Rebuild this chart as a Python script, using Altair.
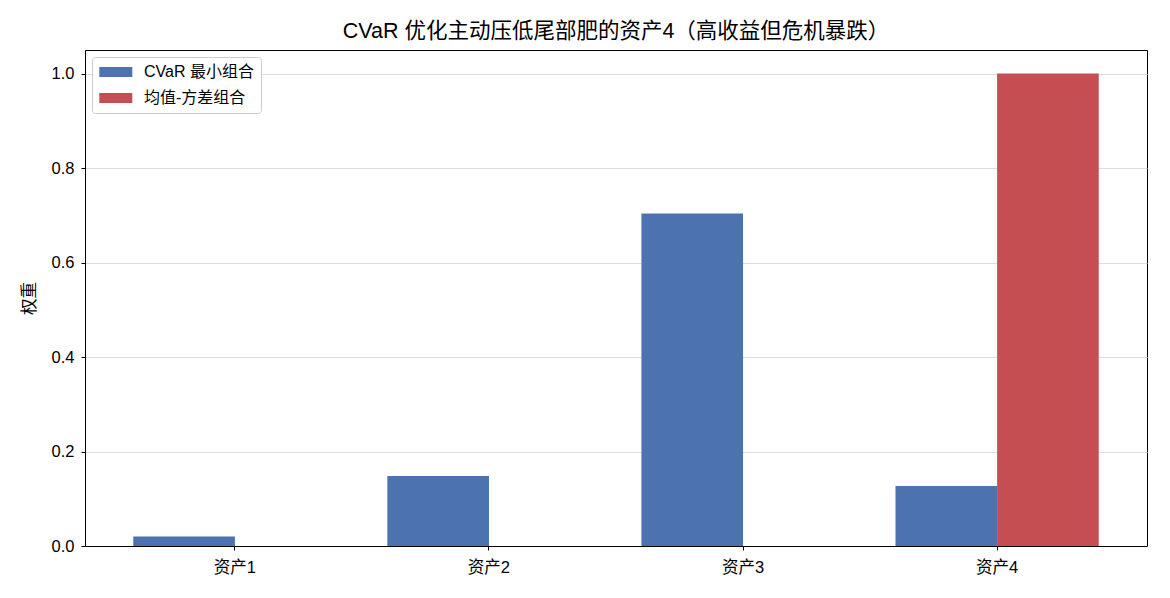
import altair as alt
import pandas as pd

assets = ["资产1", "资产2", "资产3", "资产4"]
series_names = ["CVaR 最小组合", "均值-方差组合"]
cvar_weights = [0.02, 0.148, 0.704, 0.127]
mv_weights = [0.0, 0.0, 0.0, 1.0]
colors = ["#4C72B0", "#C44E52"]
y_ticks = [0.0, 0.2, 0.4, 0.6, 0.8, 1.0]

rows = []
for a, v in zip(assets, cvar_weights):
    rows.append({"asset": a, "series": series_names[0], "weight": v})
for a, v in zip(assets, mv_weights):
    rows.append({"asset": a, "series": series_names[1], "weight": v})
df = pd.DataFrame(rows)

FONT = "Liberation Sans, Arial, Noto Sans CJK SC, sans-serif"

chart = alt.Chart(df).mark_bar().encode(
    x=alt.X("asset:N", sort=assets, title=None,
            scale=alt.Scale(paddingInner=0.2, paddingOuter=0.19),
            axis=alt.Axis(labelAngle=0, grid=False, labelFontSize=16.5, labelPadding=9,
                          tickSize=4, tickColor="black", domainColor="black", labelColor="black")),
    xOffset=alt.XOffset("series:N", sort=series_names, scale=alt.Scale(paddingInner=0, paddingOuter=0)),
    y=alt.Y("weight:Q", title="权重",
            scale=alt.Scale(domain=[0, 1.05], nice=False, zero=True),
            axis=alt.Axis(values=y_ticks, format=".1f", grid=True, gridColor="#dddddd",
                          labelFontSize=16.5, titleFontSize=16.5, titleFontWeight="normal",
                          tickSize=4, tickColor="black", domainColor="black", labelColor="black",
                          titleColor="black", titlePadding=14, labelPadding=7)),
    color=alt.Color("series:N", sort=series_names,
                    scale=alt.Scale(domain=series_names, range=colors),
                    legend=alt.Legend(title=None, orient="top-left", offset=7,
                                      symbolType="M-1.4,-0.9H4.6V0.9H-1.4Z", symbolSize=121,
                                      symbolStrokeWidth=0, labelFontSize=16, labelColor="black",
                                      fillColor="white", strokeColor="#cccccc", cornerRadius=3,
                                      padding=7, rowPadding=10, labelOffset=29)),
).properties(
    width=1062, height=496,
    title=alt.Title("CVaR 优化主动压低尾部肥的资产4（高收益但危机暴跌）", fontSize=21.5,
                    fontWeight="normal", color="black", offset=8),
    autosize=alt.AutoSizeParams(type="none"),
    padding={"left": 85, "top": 50, "right": 23, "bottom": 52},
).configure(font=FONT).configure_view(stroke="black", strokeWidth=1)

chart.save("out.html", embed_options={"renderer": "svg", "actions": False})
